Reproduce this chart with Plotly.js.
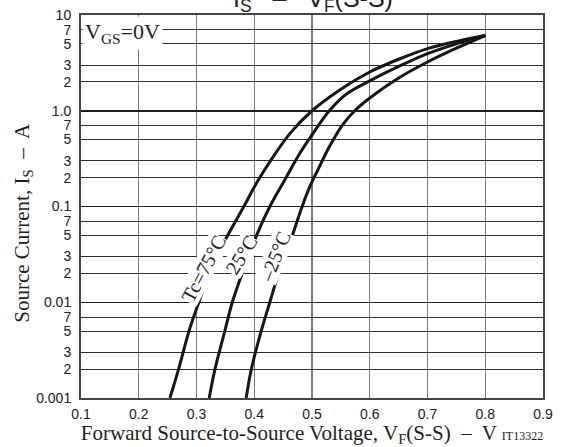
<!DOCTYPE html>
<html>
<head>
<meta charset="utf-8">
<script src="https://cdn.plot.ly/plotly-3.0.1.min.js"></script>
<style>html,body{margin:0;padding:0;background:#fff;}#chart{width:563px;height:447px;}</style>
</head>
<body>
<div id="chart"></div>
<script>
// Forward voltage VF(S-S) [V] and source current IS [A] for each case temperature
var vf75  = [0.254, 0.269, 0.287, 0.304, 0.322, 0.336, 0.354, 0.382, 0.405, 0.428, 0.462, 0.500, 0.550, 0.600, 0.650, 0.700, 0.750, 0.800];
var is75  = [0.001, 0.002, 0.005, 0.01, 0.02, 0.03, 0.05, 0.1, 0.18, 0.3, 0.58, 1.0, 1.68, 2.54, 3.45, 4.46, 5.3, 6.1];
var vf25  = [0.322, 0.332, 0.349, 0.362, 0.379, 0.390, 0.404, 0.427, 0.453, 0.479, 0.505, 0.530, 0.560, 0.600, 0.650, 0.700, 0.750, 0.800];
var is25  = [0.001, 0.002, 0.005, 0.01, 0.02, 0.03, 0.05, 0.1, 0.19, 0.36, 0.62, 1.0, 1.5, 2.05, 2.9, 3.95, 5.0, 6.1];
var vfm25 = [0.386, 0.395, 0.412, 0.427, 0.442, 0.453, 0.466, 0.483, 0.496, 0.510, 0.530, 0.552, 0.574, 0.600, 0.650, 0.700, 0.750, 0.800];
var ism25 = [0.001, 0.002, 0.005, 0.01, 0.02, 0.03, 0.05, 0.1, 0.16, 0.24, 0.42, 0.7, 1.0, 1.36, 2.2, 3.23, 4.5, 6.1];

var curveNames = ["Tc=75°C", "25°C", "–25°C"];

var xTickVals = [0.1, 0.2, 0.3, 0.4, 0.5, 0.6, 0.7, 0.8, 0.9];
var xTickText = ["0.1", "0.2", "0.3", "0.4", "0.5", "0.6", "0.7", "0.8", "0.9"];
var yTickVals = [10, 7, 5, 3, 2, 1, 0.7, 0.5, 0.3, 0.2, 0.1, 0.07, 0.05, 0.03, 0.02, 0.01, 0.007, 0.005, 0.003, 0.002, 0.001];
var yTickText = ["10", "7", "5", "3", "2", "1.0", "7", "5", "3", "2", "0.1", "7", "5", "3", "2", "0.01", "7", "5", "3", "2", "0.001"];
var yDecades  = [10, 1, 0.1, 0.01, 0.001];

var serif = "Liberation Serif, Times New Roman, serif";
var sans = "Liberation Sans, Arial, sans-serif";

var lineStyle = {color: "#161616", width: 3, shape: "spline", smoothing: 1};
var traces = [
  {x: vf75, y: is75, mode: "lines", line: lineStyle, name: curveNames[0], hoverinfo: "skip"},
  {x: vf25, y: is25, mode: "lines", line: lineStyle, name: curveNames[1], hoverinfo: "skip"},
  {x: vfm25, y: ism25, mode: "lines", line: lineStyle, name: curveNames[2], hoverinfo: "skip", yaxis: "y2"}
];

var layout = {
  width: 563, height: 447,
  margin: {l: 81, r: 20, t: 15, b: 49},
  paper_bgcolor: "#fff", plot_bgcolor: "#fff",
  showlegend: false,
  xaxis: {
    range: [0.1, 0.9], tickmode: "array", tickvals: xTickVals, ticktext: xTickText,
    showgrid: true, gridcolor: "#7a7a7a", gridwidth: 1.3,
    showline: true, mirror: true, linecolor: "#444", linewidth: 2,
    zeroline: false, ticks: "", ticklabelstandoff: 2,
    tickfont: {family: sans, size: 14, color: "#222"},
    title: {
      text: "Forward Source-to-Source Voltage, V<sub>F</sub>(S-S)  –  V <span style='font-size:12px'>IT13322</span>",
      font: {family: serif, size: 21, color: "#222"}, standoff: 8
    }
  },
  yaxis: {
    type: "log", range: [-3, 1], tickmode: "array", tickvals: yTickVals, ticktext: yTickText,
    showgrid: true, gridcolor: "#2e2e2e", gridwidth: 1.1,
    showline: true, mirror: true, linecolor: "#444", linewidth: 2,
    zeroline: false, ticks: "", ticklabelstandoff: 5,
    tickfont: {family: sans, size: 14, color: "#222"}
  },
  yaxis2: {
    type: "log", range: [-3, 1], overlaying: "y", side: "left",
    tickmode: "array", tickvals: yDecades, showticklabels: false,
    showgrid: true, gridcolor: "#1e1e1e", gridwidth: 1.5,
    showline: false, zeroline: false, ticks: ""
  },
  annotations: [
    // chart title, clipped at the top edge as in the reference
    {xref: "paper", yref: "paper", x: 0.502, y: (398 + 18) / 383, xanchor: "center", yanchor: "top",
     text: "I<sub>S</sub>\u00a0\u00a0 –\u00a0\u00a0 V<sub>F</sub>(S-S)", showarrow: false,
     font: {family: sans, size: 25, color: "#222"}},
    // y axis title
    {xref: "paper", yref: "paper", x: -0.126, y: 0.457, xanchor: "center", yanchor: "middle",
     textangle: -90, text: "Source Current, I<sub>S</sub>  –  A", showarrow: false,
     font: {family: serif, size: 21, color: "#222"}},
    {xref: "paper", yref: "paper", x: 0.002, y: 0.997, xanchor: "left", yanchor: "top",
     text: "V<sub>GS</sub>=0V", showarrow: false, bgcolor: "#fff", borderpad: 2,
     font: {family: serif, size: 22, color: "#222"}},
    {x: 0.3113, y: Math.log10(0.0225), text: curveNames[0], showarrow: false, textangle: -62,
     bgcolor: "#fff", borderpad: 0, font: {family: serif, size: 20, color: "#222"}},
    {x: 0.3777, y: Math.log10(0.031), text: curveNames[1], showarrow: false, textangle: -58,
     bgcolor: "#fff", borderpad: 0, font: {family: serif, size: 20, color: "#222"}},
    {x: 0.4354, y: Math.log10(0.0298), text: curveNames[2], showarrow: false, textangle: -68,
     bgcolor: "#fff", borderpad: 0, font: {family: serif, size: 20, color: "#222"}}
  ]
};

Plotly.newPlot("chart", traces, layout, {staticPlot: true, displayModeBar: false});
</script>
</body>
</html>
